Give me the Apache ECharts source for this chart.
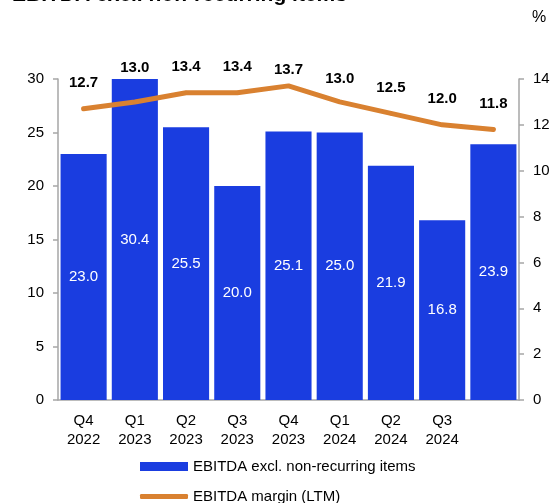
<!DOCTYPE html>
<html>
<head>
<meta charset="utf-8">
<script src="https://cdn.jsdelivr.net/npm/echarts@6/dist/echarts.min.js"></script>
<style>
html,body{margin:0;padding:0;background:#fff;}
#chart{width:555px;height:503px;}
</style>
</head>
<body>
<div id="chart"></div>
<script>
var titleText = 'EBITDA excl. non-recurring items';
var categories = ['Q4\n2022','Q1\n2023','Q2\n2023','Q3\n2023','Q4\n2023','Q1\n2024','Q2\n2024','Q3\n2024',''];
var ebitda = [23.0, 30.4, 25.5, 20.0, 25.1, 25.0, 21.9, 16.8, 23.9];
var margin = [12.7, 13.0, 13.4, 13.4, 13.7, 13.0, 12.5, 12.0, 11.8];
var barName = 'EBITDA excl. non-recurring items';
var lineName = 'EBITDA margin (LTM)';

// label placement tweaks (vertical px shift of margin labels, as in the original layout)
var marginLabelShift = [0, -9, 0, 0, 9, 2, 0, 0, 0];

var FONT = '"Liberation Sans", Arial, sans-serif';
var BLUE = '#1a3de0';
var ORANGE = '#d98130';
var AXIS = '#a6a6a6';

var lineData = margin.map(function(v, i){
  return {value: v, label: {offset: [0, marginLabelShift[i]]}};
});

var chart = echarts.init(document.getElementById('chart'), null, {renderer:'canvas'});
chart.setOption({
  animation: false,
  textStyle: {fontFamily: FONT},
  grid: {left: 58, right: 36, top: 79, bottom: 103, containLabel: false},
  graphic: [
    {type:'text', left: 12, top: -15, style:{text: titleText, fontFamily: FONT, fontSize: 21, fontWeight:'bold', fill:'#000'}},
    {type:'text', left: 532, top: 10, style:{text:'%', fontFamily: FONT, fontSize: 16, fill:'#000'}}
  ],
  legend: [
    {orient:'vertical', left: 135, top: 454, itemWidth: 48, itemHeight: 9,
     data:[{name: barName, icon:'rect'}],
     textStyle:{fontFamily: FONT, fontSize: 15, color:'#000'}},
    {orient:'vertical', left: 135, top: 484, itemWidth: 48, itemHeight: 5,
     data:[{name: lineName, icon:'roundRect'}],
     textStyle:{fontFamily: FONT, fontSize: 15, color:'#000'}}
  ],
  xAxis: {
    type:'category', data: categories,
    axisLine:{lineStyle:{color: AXIS, width: 1.5}},
    axisTick:{show:false},
    axisLabel:{color:'#000', fontSize: 15, lineHeight: 19, margin: 11, fontFamily: FONT, interval: 0}
  },
  yAxis: [
    {type:'value', min:0, max:30, interval:5,
     splitLine:{show:false},
     axisLine:{show:true, lineStyle:{color: AXIS, width: 1.5}},
     axisTick:{show:true, length:5, lineStyle:{color: AXIS, width: 1.5}},
     axisLabel:{color:'#000', fontSize: 15, margin: 14, fontFamily: FONT}},
    {type:'value', min:0, max:14, interval:2, position:'right',
     splitLine:{show:false},
     axisLine:{show:true, lineStyle:{color: AXIS, width: 1.5}},
     axisTick:{show:true, length:5, lineStyle:{color: AXIS, width: 1.5}},
     axisLabel:{color:'#000', fontSize: 15, margin: 14, fontFamily: FONT}}
  ],
  series: [
    {name: barName, type:'bar', data: ebitda, yAxisIndex:0, barCategoryGap:'10%',
     itemStyle:{color: BLUE}, clip: true,
     label:{show:true, position:'inside', color:'#fff', fontSize: 15, fontFamily: FONT,
            formatter: function(p){return p.value.toFixed(1);}}},
    {name: lineName, type:'line', data: lineData, yAxisIndex:1, symbol:'circle', symbolSize: 4, showSymbol: true, z: 5,
     lineStyle:{color: ORANGE, width: 5, cap:'round', join:'round'},
     itemStyle:{color: ORANGE},
     label:{show:true, position:'top', distance: 16, color:'#000', fontSize: 15, fontWeight:'bold', fontFamily: FONT,
            formatter: function(p){return p.value.toFixed(1);}}}
  ]
});
</script>
</body>
</html>
